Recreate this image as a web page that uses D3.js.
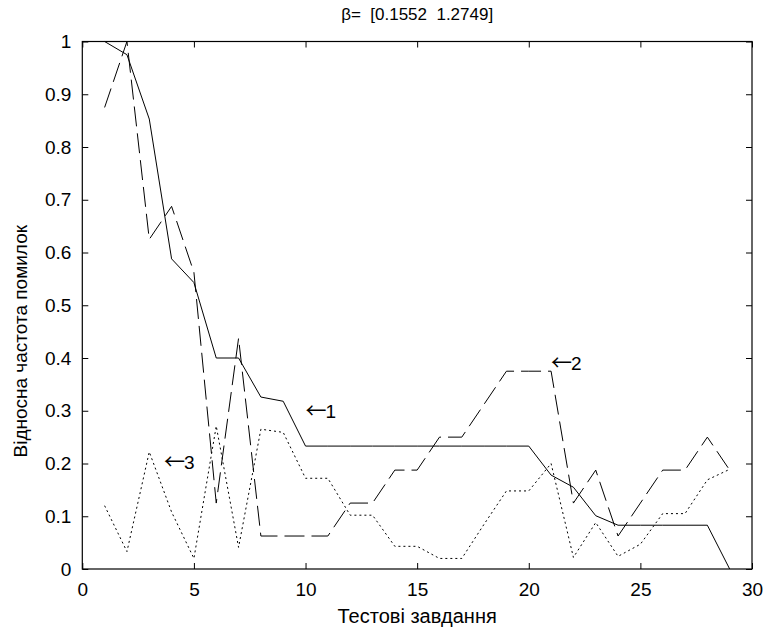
<!DOCTYPE html>
<html>
<head>
<meta charset="utf-8">
<script src="https://cdn.jsdelivr.net/npm/d3@7"></script>
<style>
  html, body { margin: 0; padding: 0; background: #fff; }
  svg { display: block; }
  text { font-family: "Liberation Sans", Arial, Helvetica, sans-serif; fill: #000; white-space: pre; }
</style>
</head>
<body>
<svg id="chart" width="767" height="630"></svg>
<script>
// ---- data ----
const tasks = d3.range(1, 30);                 // test task numbers 1..29
const series1 = [1.0, 0.975, 0.853, 0.588, 0.543, 0.40, 0.40, 0.326, 0.318,
  0.233, 0.233, 0.233, 0.233, 0.233, 0.233, 0.233, 0.233, 0.233, 0.233, 0.233,
  0.178, 0.155, 0.101, 0.083, 0.083, 0.083, 0.083, 0.083, 0.0];
const series2 = [0.875, 1.0, 0.625, 0.6875, 0.5625, 0.125, 0.4375, 0.0625, 0.0625,
  0.0625, 0.0625, 0.125, 0.125, 0.1875, 0.1875, 0.25, 0.25, 0.3125, 0.375, 0.375,
  0.375, 0.125, 0.1875, 0.0625, 0.125, 0.1875, 0.1875, 0.25, 0.1875];
const series3 = [0.12, 0.033, 0.222, 0.108, 0.02, 0.271, 0.041, 0.265, 0.259,
  0.172, 0.172, 0.102, 0.102, 0.043, 0.043, 0.02, 0.02, 0.085, 0.148, 0.148,
  0.20, 0.022, 0.088, 0.024, 0.047, 0.105, 0.105, 0.169, 0.189];
const xTicks = [0, 5, 10, 15, 20, 25, 30];
const yTicks = [0, 0.1, 0.2, 0.3, 0.4, 0.5, 0.6, 0.7, 0.8, 0.9, 1];
const annoLabels = ["1", "2", "3"];
const annoX = [10, 21, 3.66];
const annoY = [0.298, 0.39, 0.202];
const titleText = "\u03B2=  [0.1552  1.2749]";
const xLabel = "Тестові завдання";
const yLabel = "Відносна частота помилок";

// ---- layout ----
const L = 82.3, R = 752, T = 41.5, B = 569;
const svg = d3.select("#chart");
const x = d3.scaleLinear().domain([0, 30]).range([L, R]);
const y = d3.scaleLinear().domain([0, 1]).range([B, T]);

svg.append("clipPath").attr("id", "clip")
  .append("rect").attr("x", L).attr("y", T - 1).attr("width", R - L).attr("height", B - T + 2);

// axes
const tickLen = 6;
const fs = 19;
svg.append("g").attr("transform", `translate(0,${B})`)
  .call(d3.axisBottom(x).tickValues(xTicks).tickFormat(d3.format("d")).tickSizeInner(-tickLen).tickSizeOuter(0).tickPadding(14))
  .call(g => g.select(".domain").remove())
  .call(g => g.selectAll("text").attr("font-size", fs));
svg.append("g").attr("transform", `translate(0,${T})`)
  .call(d3.axisTop(x).tickValues(xTicks).tickFormat("").tickSizeInner(-tickLen).tickSizeOuter(0))
  .call(g => g.select(".domain").remove());
svg.append("g").attr("transform", `translate(${L},0)`)
  .call(d3.axisLeft(y).tickValues(yTicks).tickFormat(d => d === 0 || d === 1 ? d3.format("d")(d) : d3.format(".1f")(d)).tickSizeInner(-tickLen).tickSizeOuter(0).tickPadding(11))
  .call(g => g.select(".domain").remove())
  .call(g => g.selectAll("text").attr("font-size", fs));
svg.append("g").attr("transform", `translate(${R},0)`)
  .call(d3.axisRight(y).tickValues(yTicks).tickFormat("").tickSizeInner(-tickLen).tickSizeOuter(0))
  .call(g => g.select(".domain").remove());
svg.selectAll(".tick line").attr("stroke", "#000");

// box
svg.append("rect").attr("x", L).attr("y", T).attr("width", R - L).attr("height", B - T)
  .attr("fill", "none").attr("stroke", "#000").attr("stroke-width", 1.2);

// lines
const line = d3.line().x((d, i) => x(tasks[i])).y(d => y(d));
const g = svg.append("g").attr("clip-path", "url(#clip)");
g.append("path").datum(series1).attr("d", line).attr("fill", "none").attr("stroke", "#000").attr("stroke-width", 1);
g.append("path").datum(series2).attr("d", line).attr("fill", "none").attr("stroke", "#000").attr("stroke-width", 1)
  .attr("stroke-dasharray", "20,7");
g.append("path").datum(series3).attr("d", line).attr("fill", "none").attr("stroke", "#000").attr("stroke-width", 1)
  .attr("stroke-dasharray", "2,3");

// annotations
const anno = svg.selectAll("text.anno").data(annoLabels).enter().append("text").attr("class", "anno")
  .attr("x", (d, i) => x(annoX[i])).attr("y", (d, i) => y(annoY[i]))
  .attr("dy", "0.35em").attr("font-size", 19);
anno.append("tspan").attr("font-family", "Noto Sans CJK SC").attr("font-size", 21).text("\u2190");
anno.append("tspan").attr("dx", -1).text(d => d);

// title and labels
svg.append("text").attr("x", (L + R) / 2).attr("y", 20).attr("text-anchor", "middle")
  .attr("font-size", 17).text(titleText);
svg.append("text").attr("x", (L + R) / 2).attr("y", 623).attr("text-anchor", "middle")
  .attr("font-size", 20).text(xLabel);
svg.append("text").attr("transform", `translate(27,${(T + B) / 2 + 36}) rotate(-90)`)
  .attr("text-anchor", "middle").attr("font-size", 19).text(yLabel);
</script>
</body>
</html>
